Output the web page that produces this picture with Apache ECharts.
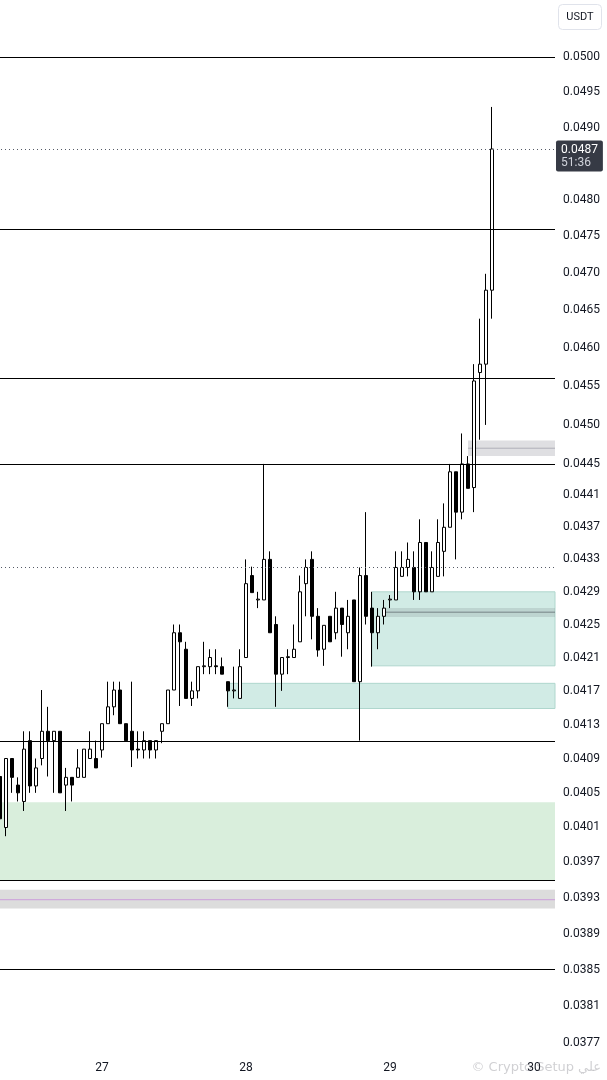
<!DOCTYPE html>
<html>
<head>
<meta charset="utf-8">
<title>USDT 1h</title>
<script src="https://cdn.jsdelivr.net/npm/echarts@6/dist/echarts.min.js"></script>
<style>
html, body { margin: 0; padding: 0; background: #ffffff; }
#chart { width: 607px; height: 1080px; }
</style>
</head>
<body>
<div id="chart"></div>
<script>
// hourly candles, first one is 26th 07:00
var openPx = [0.04069, 0.04010, 0.04090, 0.04059, 0.04040, 0.04111, 0.04058, 0.04090, 0.04122, 0.04111,
  0.04122, 0.04059, 0.04068, 0.04068, 0.04068, 0.04090, 0.04090, 0.04100, 0.04131, 0.04151,
  0.04171, 0.04131, 0.04122, 0.04101, 0.04100, 0.04111, 0.04100, 0.04122, 0.04131, 0.04171,
  0.04240, 0.04220, 0.04161, 0.04170, 0.04199, 0.04199, 0.04200, 0.04199, 0.04181, 0.04170,
  0.04161, 0.04210, 0.04310, 0.04280, 0.04280, 0.04330, 0.04250, 0.04190, 0.04210, 0.04210,
  0.04229, 0.04300, 0.04330, 0.04260, 0.04220, 0.04260, 0.04240, 0.04270, 0.04240, 0.04280,
  0.04181, 0.04310, 0.04270, 0.04240, 0.04260, 0.04280, 0.04280, 0.04309, 0.04320, 0.04320,
  0.04290, 0.04351, 0.04290, 0.04309, 0.04340, 0.04370, 0.04440, 0.04389, 0.04450, 0.04420,
  0.04568, 0.04579, 0.04677];
var closePx = [0.04020, 0.04090, 0.04068, 0.04050, 0.04101, 0.04058, 0.04079, 0.04122, 0.04111, 0.04122,
  0.04050, 0.04068, 0.04059, 0.04079, 0.04101, 0.04101, 0.04079, 0.04131, 0.04151, 0.04171,
  0.04131, 0.04111, 0.04100, 0.04100, 0.04111, 0.04100, 0.04111, 0.04131, 0.04171, 0.04240,
  0.04229, 0.04161, 0.04170, 0.04199, 0.04200, 0.04210, 0.04199, 0.04190, 0.04170, 0.04171,
  0.04199, 0.04300, 0.04289, 0.04281, 0.04330, 0.04240, 0.04190, 0.04210, 0.04211, 0.04220,
  0.04290, 0.04320, 0.04260, 0.04219, 0.04249, 0.04229, 0.04270, 0.04250, 0.04260, 0.04181,
  0.04310, 0.04260, 0.04240, 0.04260, 0.04270, 0.04281, 0.04320, 0.04320, 0.04330, 0.04290,
  0.04351, 0.04290, 0.04320, 0.04351, 0.04370, 0.04440, 0.04389, 0.04450, 0.04419, 0.04557,
  0.04579, 0.04677, 0.04870];
var lowPx = [0.04011, 0.04000, 0.04050, 0.04040, 0.04029, 0.04050, 0.04050, 0.04082, 0.04069, 0.04050,
  0.04050, 0.04029, 0.04040, 0.04068, 0.04068, 0.04090, 0.04079, 0.04091, 0.04131, 0.04141,
  0.04131, 0.04111, 0.04080, 0.04090, 0.04090, 0.04090, 0.04090, 0.04108, 0.04131, 0.04171,
  0.04152, 0.04161, 0.04152, 0.04161, 0.04190, 0.04190, 0.04190, 0.04190, 0.04151, 0.04161,
  0.04161, 0.04210, 0.04289, 0.04270, 0.04280, 0.04240, 0.04151, 0.04170, 0.04190, 0.04210,
  0.04229, 0.04260, 0.04232, 0.04211, 0.04200, 0.04229, 0.04232, 0.04211, 0.04220, 0.04181,
  0.04111, 0.04250, 0.04199, 0.04220, 0.04250, 0.04270, 0.04280, 0.04309, 0.04309, 0.04280,
  0.04280, 0.04290, 0.04290, 0.04309, 0.04309, 0.04370, 0.04330, 0.04380, 0.04419, 0.04389,
  0.04481, 0.04500, 0.04639];
var highPx = [0.04131, 0.04090, 0.04090, 0.04068, 0.04122, 0.04122, 0.04090, 0.04171, 0.04151, 0.04122,
  0.04122, 0.04079, 0.04068, 0.04101, 0.04101, 0.04122, 0.04111, 0.04131, 0.04181, 0.04181,
  0.04181, 0.04131, 0.04181, 0.04122, 0.04122, 0.04111, 0.04111, 0.04131, 0.04171, 0.04250,
  0.04250, 0.04229, 0.04181, 0.04199, 0.04229, 0.04220, 0.04220, 0.04210, 0.04181, 0.04199,
  0.04220, 0.04330, 0.04321, 0.04290, 0.04450, 0.04340, 0.04260, 0.04210, 0.04220, 0.04250,
  0.04310, 0.04330, 0.04340, 0.04270, 0.04249, 0.04260, 0.04290, 0.04270, 0.04280, 0.04280,
  0.04320, 0.04389, 0.04290, 0.04270, 0.04280, 0.04286, 0.04340, 0.04340, 0.04351, 0.04340,
  0.04380, 0.04351, 0.04340, 0.04380, 0.04400, 0.04450, 0.04440, 0.04489, 0.04460, 0.04579,
  0.04639, 0.04699, 0.04929];

var priceTicks = [0.0500, 0.0495, 0.0490, 0.0480, 0.0475, 0.0470, 0.0465, 0.0460, 0.0455, 0.0450,
  0.0445, 0.0441, 0.0437, 0.0433, 0.0429, 0.0425, 0.0421, 0.0417, 0.0413, 0.0409, 0.0405,
  0.0401, 0.0397, 0.0393, 0.0389, 0.0385, 0.0381, 0.0377];

// drawn levels
var solidLevels = [0.0500, 0.0476, 0.0456, 0.0445, 0.0411, 0.0395, 0.0385];
var dottedLevels = [0.0432];
var lastPrice = 0.0487;
var lastPriceTimer = '51:36';

// zones [low, high, mid], start = candle index (null = from left edge)
var greenZone = [0.0395, 0.04039];
var greyZoneLow = [0.03918, 0.03939, 0.03928];
var demandZoneA = [0.04149, 0.04179];
var demandZoneB = [0.0420, 0.0429];
var greyBandB = [0.04259, 0.04270, 0.04265];
var greyBandTop = [0.04460, 0.04480, 0.04470];
var zoneStartA = 38, zoneStartB = 62, bandStartB = 64, bandStartTop = 78;

var firstDay = 26, firstHour = 7, totalSlots = 93;

var hours = [];
for (var k = 0; k < totalSlots; k++) {
  var h = firstHour + k;
  var d = firstDay + Math.floor(h / 24);
  var hh = h % 24;
  hours.push(d + ' ' + (hh < 10 ? '0' + hh : hh) + ':00');
}

var candles = [];
for (var i = 0; i < openPx.length; i++) {
  candles.push([openPx[i], closePx[i], lowPx[i], highPx[i]]);
}

function band(start, range, style) {
  var a = { yAxis: range[0], itemStyle: style };
  if (start != null) a.xAxis = start;
  return [a, { yAxis: range[1] }];
}
function midLine(start, v, color) {
  var a = { yAxis: v, itemStyle: { color: 'rgba(0,0,0,0)', borderColor: color, borderWidth: 1 } };
  if (start != null) a.xAxis = start;
  return [a, { yAxis: v }];
}

var tealStyle = { color: '#d1ebe5', borderColor: '#afd6cd', borderWidth: 1 };

var zoneData = [
  band(null, greenZone, { color: '#d9eedc' }),
  band(null, greyZoneLow, { color: '#dcdcdc' }),
  midLine(null, greyZoneLow[2], '#cfaadb'),
  band(zoneStartA, demandZoneA, tealStyle),
  band(zoneStartB, demandZoneB, tealStyle),
  band(bandStartB, greyBandB, { color: 'rgba(110,120,125,0.2)' }),
  midLine(bandStartB, greyBandB[2], 'rgba(100,110,115,0.45)'),
  band(bandStartTop, greyBandTop, { color: '#dfdfe2' }),
  midLine(bandStartTop, greyBandTop[2], '#bcbcc4')
];

var lineData = [];
solidLevels.forEach(function (v) {
  lineData.push({ yAxis: v, lineStyle: { color: '#000000', width: 1, type: 'solid' }, label: { show: false } });
});
dottedLevels.forEach(function (v) {
  lineData.push({ yAxis: v, lineStyle: { color: '#555a66', width: 1, type: [1, 3] }, label: { show: false } });
});
lineData.push({
  yAxis: lastPrice,
  lineStyle: { color: '#555a66', width: 1, type: [1, 3] },
  label: {
    show: true,
    position: 'end',
    distance: 1,
    offset: [0, 7],
    formatter: '{p|' + lastPrice.toFixed(4) + '}\n{t|' + lastPriceTimer + '}',
    backgroundColor: '#363a45',
    padding: [3, 5, 2, 5],
    borderRadius: 2,
    rich: {
      p: { color: '#ffffff', fontSize: 12, fontFamily: 'Roboto', lineHeight: 13 },
      t: { color: '#d1d4dc', fontSize: 12, fontFamily: 'Roboto', lineHeight: 13 }
    }
  }
});

var myChart = echarts.init(document.getElementById('chart'));

var option = {
  animation: false,
  backgroundColor: '#ffffff',
  grid: { left: -3, right: 52, top: 57, bottom: 37, containLabel: false, outerBoundsMode: 'none' },
  xAxis: {
    type: 'category',
    data: hours,
    boundaryGap: true,
    axisLine: { show: false },
    axisTick: { show: false },
    splitLine: { show: false },
    axisLabel: {
      interval: function (index, value) { return value.slice(-5) === '00:00'; },
      formatter: function (value) { return value.split(' ')[0]; },
      color: '#131722',
      fontSize: 12,
      fontFamily: 'Roboto',
      margin: 19
    }
  },
  yAxis: {
    type: 'log',
    logBase: 10,
    position: 'right',
    min: 0.0377,
    max: 0.0500,
    axisLine: { show: false },
    axisTick: { show: false },
    splitLine: { show: false },
    axisLabel: {
      customValues: priceTicks,
      formatter: function (v) { return v.toFixed(4); },
      color: '#131722',
      fontSize: 12,
      fontFamily: 'Roboto',
      margin: 8,
      showMinLabel: true,
      showMaxLabel: true
    }
  },
  series: [
    {
      name: 'zones',
      type: 'line',
      data: [],
      z: 1,
      silent: true,
      markArea: { silent: true, label: { show: false }, data: zoneData }
    },
    {
      name: 'price',
      type: 'candlestick',
      data: candles,
      z: 2,
      barWidth: 4,
      itemStyle: {
        color: '#ffffff',
        color0: '#000000',
        borderColor: '#000000',
        borderColor0: '#000000',
        borderColorDoji: '#000000',
        borderWidth: 1
      }
    },
    {
      name: 'levels',
      type: 'line',
      data: [],
      z: 3,
      silent: true,
      markLine: { silent: true, precision: 6, symbol: ['none', 'none'], animation: false, data: lineData }
    }
  ],
  graphic: [
    {
      type: 'group',
      right: 5,
      top: 4,
      children: [
        { type: 'rect', shape: { x: 0, y: 0, width: 43, height: 25, r: 4 },
          style: { fill: '#ffffff', stroke: '#e0e3eb', lineWidth: 1 } },
        { type: 'text', x: 21.5, y: 12.5,
          style: { text: 'USDT', fill: '#131722', fontSize: 11, fontFamily: 'Roboto', align: 'center', verticalAlign: 'middle' } }
      ]
    },
    {
      type: 'text',
      right: 6,
      top: 1061,
      z: 10,
      style: { text: '\u00a9 Crypto Setup علي', fill: 'rgba(120,120,130,0.35)', fontSize: 13, fontFamily: 'DejaVu Sans' }
    }
  ]
};

myChart.setOption(option);
</script>
</body>
</html>
